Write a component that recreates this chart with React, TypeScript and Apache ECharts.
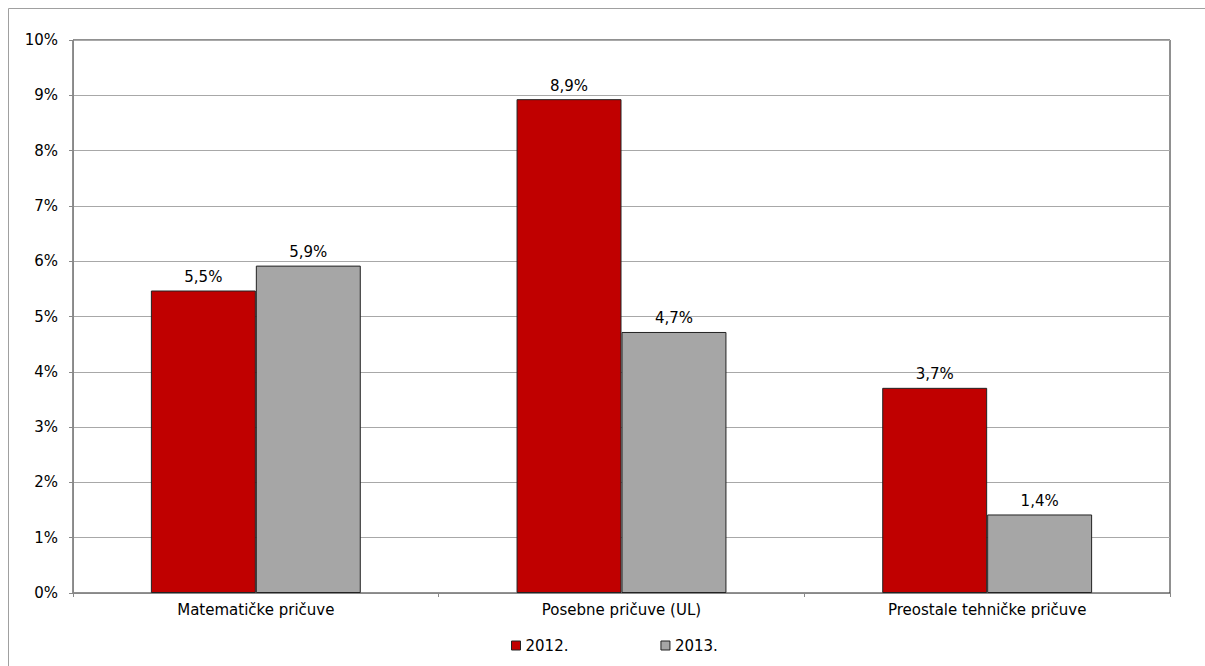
import React, { useEffect, useRef } from "react";
import * as echarts from "echarts";

const categories = ["Matematičke pričuve", "Posebne pričuve (UL)", "Preostale tehničke pričuve"];
const series2012 = [5.47, 8.93, 3.71];
const series2013 = [5.92, 4.72, 1.42];
const seriesNames = ["2012.", "2013."];
const yTicks = [0, 1, 2, 3, 4, 5, 6, 7, 8, 9, 10];

export default function App() {
  const ref = useRef<HTMLDivElement>(null);
  useEffect(() => {
    if (!ref.current) return;
    const chart = echarts.init(ref.current, null, { renderer: "svg" });
    const font = "'DejaVu Sans', 'Liberation Sans', Arial, sans-serif";
    const fs = 15;
    const label = {
      show: true,
      position: "top",
      distance: 6,
      color: "#000",
      fontFamily: font,
      fontSize: fs,
      formatter: (p: any) => p.value.toFixed(1).replace(".", ",") + "%",
    };
    chart.setOption({
      animation: false,
      textStyle: { fontFamily: font },
      graphic: [
        { type: "line", shape: { x1: 8.5, y1: 8.5, x2: 1205, y2: 8.5 }, style: { stroke: "#a0a0a0", lineWidth: 1 } },
        { type: "line", shape: { x1: 8.5, y1: 8.5, x2: 8.5, y2: 666 }, style: { stroke: "#a0a0a0", lineWidth: 1 } },
      ],
      grid: {
        left: 73,
        top: 40,
        right: 35,
        bottom: 73,
        show: true,
        borderColor: "#222",
        borderWidth: 1,
        backgroundColor: "transparent",
      },
      legend: {
        top: 633,
        left: 506,
        itemGap: 92,
        itemWidth: 9,
        itemHeight: 9,
        itemTextGap: 6,
        icon: "rect",
        itemStyle: { borderColor: "#222", borderWidth: 1 },
        textStyle: { fontFamily: font, fontSize: fs, color: "#000" },
        data: seriesNames,
      },
      xAxis: {
        type: "category",
        data: categories,
        axisLine: { show: true, lineStyle: { color: "#888" } },
        axisTick: { show: true, length: 4, lineStyle: { color: "#888" } },
        axisLabel: { color: "#000", fontSize: fs, fontFamily: font, margin: 9 },
        splitLine: { show: false },
      },
      yAxis: {
        type: "value",
        min: yTicks[0],
        max: yTicks[yTicks.length - 1],
        interval: 1,
        axisLine: { show: true, lineStyle: { color: "#888" } },
        axisTick: { show: true, length: 4, lineStyle: { color: "#888" } },
        axisLabel: { color: "#000", fontSize: fs, fontFamily: font, margin: 15, formatter: "{value}%" },
        splitLine: { show: true, lineStyle: { color: "#a8a8a8", width: 1 } },
      },
      series: [
        {
          name: seriesNames[0],
          type: "bar",
          data: series2012,
          barGap: "0%",
          barCategoryGap: "42.6%",
          itemStyle: { color: "#c00000", borderColor: "#222", borderWidth: 1 },
          label,
        },
        {
          name: seriesNames[1],
          type: "bar",
          data: series2013,
          barGap: "0%",
          barCategoryGap: "42.6%",
          itemStyle: { color: "#a6a6a6", borderColor: "#222", borderWidth: 1 },
          label,
        },
      ],
    });
    return () => chart.dispose();
  }, []);
  return (
    <div
      ref={ref}
      style={{ position: "fixed", left: 0, top: 0, width: 1205, height: 666, background: "#fff" }}
    />
  );
}
